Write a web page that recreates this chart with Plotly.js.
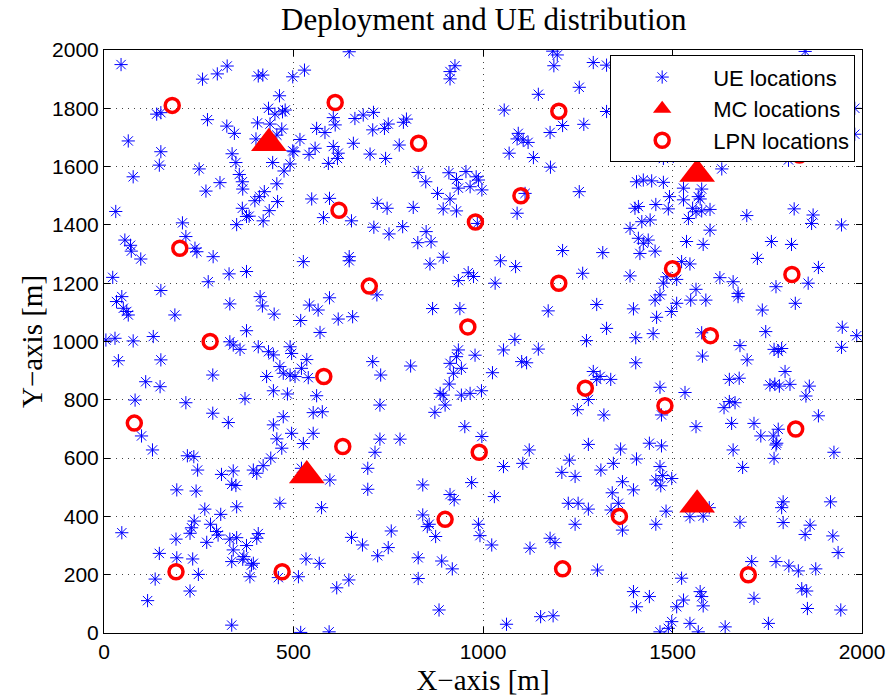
<!DOCTYPE html>
<html>
<head>
<meta charset="utf-8">
<script src="https://cdn.plot.ly/plotly-3.0.1.min.js"></script>
<style>html,body{margin:0;padding:0;background:#fff;}#chart{width:891px;height:696px;}</style>
</head>
<body>
<div id="chart"></div>
<script>
// UE locations (x, y in metres)
const ueX = [45,260,299,325,407,419,498,529,463,139,150,273,324,344,434,451,471,478,405,438,469,456,401,64,150,146,338,348,498,445,491,475,251,77,357,365,366,306,269,456,423,410,398,458,436,365,31,376,383,350,420,207,216,
55,70,72,
647,913,926,913,605,610,662,684,711,561,583,517,709,740,750,790,798,658,779,501,557,541,605,618,616,592,702,743,829,849,910,955,930,982,988,935,966,997,880,913,895,930,548,595,579,653,721,747,816,712,752,788,850,863,828,985,
1184,1196,1187,1291,1326,1254,1146,1056,1326,1210,1177,1266,1093,1090,1106,1119,1069,1133,1178,1476,1111,1090,1254,1405,1423,1445,1476,1492,1456,1489,1401,1410,1419,1441,1388,1410,1436,1423,
1981,1981,1850,1502,1559,1731,1806,1630,1529,1529,1577,1568,1573,1553,1562,1542,1577,1599,1599,1696,1821,1871,1867,1946,1537,1581,1761,1814,
97,240,245,288,23,330,376,275,150,47,33,51,60,64,332,187,412,418,449,5,29,77,130,376,332,341,359,407,434,447,491,495,38,150,464,473,491,429,287,110,148,447,484,82,216,372,287,328,473,447,99,495,
526,647,647,860,895,961,935,975,720,595,542,565,867,939,519,618,656,570,535,521,504,539,561,709,730,809,935,913,930,943,922,979,911,887,895,900,873,943,966,996,728,552,576,952,552,728,781,997,
1210,1316,1414,1454,1046,1086,1032,1263,1388,1485,1476,1467,1454,1458,1497,1300,1172,1397,1326,1084,1054,1146,1273,1403,1449,1102,1115,1025,1403,1291,1309,1300,1337,1278,1249,1319,1467,1471,
1724,1885,1524,1546,1511,1625,1660,1673,1673,1562,1548,1588,1511,1773,1858,1824,1737,1577,1746,1948,1986,1946,1678,1768,1779,1788,1579,1697,1797,1650,1676,1757,1770,1782,1810,1861,1852,1533,1650,1665,1636,1885,1562,1656,1715,1733,1766,1779,
128,220,237,247,310,341,337,348,394,403,420,440,456,469,192,243,464,266,308,350,238,231,227,281,297,301,47,190,271,332,350,341,376,407,403,146,192,234,337,369,366,389,394,385,135,249,227,115,337,460,
526,715,521,596,696,696,841,913,924,970,574,841,858,853,875,988,992,653,682,722,750,758,533,568,829,891,919,513,614,646,829,884,519,594,
1122,1278,1363,1439,1471,1054,1105,1228,1208,1243,1311,1344,1405,1467,1456,1474,1469,1498,1368,1397,1341,1030,1225,1251,1278,1338,1357,1368,1483,1456,1023,1243,1177,1190,1124,1302,1397,1439,1405,1062,1152,1185,1467,1489,1498,
1773,1775,1660,1685,1768,1926,1546,1581,1597,1678,1792,1788,1792,1917,1863,1850,1923,1937,1709,1773,1807,1832,1878,1524,1573,1577,1529,1511,1581,1841,1854,1715,1856,1944,1546,1568,1639,1753];
const ueY = [1950,1900,1918,1945,1911,1914,1908,1931,1843,1780,1785,1761,1739,1714,1800,1780,1788,1794,1750,1746,1729,1708,1695,1688,1651,1605,1644,1614,1654,1614,1609,1585,1592,1565,1573,1548,1523,1545,1516,1541,1514,1497,1483,1480,1449,1457,1446,1429,1430,1401,1414,1407,1360,
1348,1330,1310,
1994,1926,1946,1901,1768,1743,1765,1777,1786,1731,1717,1693,1726,1731,1746,1752,1763,1680,1674,1651,1663,1642,1669,1646,1628,1611,1643,1628,1580,1548,1579,1583,1556,1565,1554,1526,1531,1520,1508,1489,1455,1448,1489,1491,1425,1414,1474,1457,1460,1392,1369,1394,1377,1342,1339,1405,
1996,1983,1946,1957,1948,1872,1848,1794,1789,1741,1717,1745,1714,1695,1691,1683,1646,1631,1598,1628,1508,1440,1514,1548,1554,1551,1546,1497,1470,1455,1457,1463,1411,1417,1388,1354,1348,1337,
1800,1711,1995,1635,1640,1646,1623,1592,1526,1486,1523,1497,1489,1457,1445,1422,1448,1453,1382,1432,1455,1434,1405,1400,1343,1333,1343,1333,
1283,1320,1308,1291,1220,1232,1240,1205,1175,1154,1137,1114,1103,1091,1129,1091,1154,1122,1094,1005,1011,1002,1017,1037,999,988,973,982,965,954,982,959,934,937,914,891,885,880,885,862,845,831,820,799,790,804,754,722,742,714,676,685,
1274,1291,1277,1266,1289,1236,1209,1223,1160,1150,1125,1108,1113,1113,1072,1077,1085,1031,938,908,880,876,814,931,885,916,971,925,948,908,891,953,854,822,816,782,757,816,822,831,782,756,759,708,685,665,665,674,
1312,1305,1302,1310,1277,1257,1200,1234,1225,1222,1200,1160,1142,1083,1103,1127,1105,1112,1045,1007,971,974,1003,1013,1027,931,927,893,927,897,880,870,870,801,766,748,843,748,
1285,1254,1274,1266,1213,1219,1205,1165,1154,1179,1142,1142,1131,1188,1200,1131,1108,1030,1034,1049,1020,980,986,973,966,976,950,937,897,870,874,851,854,847,853,847,813,825,794,790,773,745,708,719,719,676,676,699,
628,608,605,559,544,556,510,506,559,548,574,600,666,634,491,487,445,425,407,433,384,361,342,373,348,336,344,322,311,322,327,285,300,341,325,273,258,254,245,262,253,233,239,193,185,201,144,111,27,190,
650,620,565,525,565,493,508,475,457,516,430,405,373,365,331,373,334,328,302,265,293,350,254,239,258,247,220,193,155,182,187,79,2,4,
628,647,631,651,642,571,582,593,551,537,559,582,597,571,525,540,505,530,519,491,481,468,445,445,425,422,445,353,418,373,302,373,325,310,291,216,142,125,90,30,56,59,4,16,39,
645,651,628,568,599,620,399,401,430,380,450,430,379,450,370,338,333,276,245,245,230,213,220,188,142,125,113,90,93,152,144,119,84,79,33,4,21,33];

// Macro cell (MC) locations
const mcX = [435, 1565, 535, 1565];
const mcY = [1680, 1575, 540, 440];

// Low power node (LPN) locations
const lpnX = [180, 610, 830, 620, 200, 700, 980, 1100, 1200, 1200, 960, 280, 580, 80, 630, 990, 900, 470, 190, 1210, 1360, 1270, 1480, 1500, 1600, 1815, 1825, 1700, 1835];
const lpnY = [1810, 1820, 1680, 1450, 1320, 1190, 1410, 1500, 1790, 1200, 1050, 1000, 880, 720, 640, 620, 390, 210, 210, 220, 400, 840, 780, 1250, 1020, 1230, 700, 200, 1640];

const xTicks = [0, 500, 1000, 1500, 2000];
const yTicks = [0, 200, 400, 600, 800, 1000, 1200, 1400, 1600, 1800, 2000];

const traces = [
  {x: ueX, y: ueY, type: 'scatter', mode: 'markers', name: 'UE locations',
   marker: {symbol: 'asterisk-open', size: 11, color: '#0000ff', line: {color: '#0000ff', width: 1}}},
  {x: mcX, y: mcY, type: 'scatter', mode: 'markers', name: 'MC locations',
   marker: {symbol: 'triangle-up', size: 31, color: '#ff0000', line: {width: 0}}},
  {x: lpnX, y: lpnY, type: 'scatter', mode: 'markers', name: 'LPN locations',
   marker: {symbol: 'circle-open', size: 14, color: '#ff0000', line: {color: '#ff0000', width: 3.5}}}
];

const serif = 'Liberation Serif, Times New Roman, serif';
const sans = 'Liberation Sans, Arial, sans-serif';

const axisCommon = {
  showline: true, linecolor: '#000', linewidth: 1, mirror: 'ticks',
  ticks: 'inside', ticklen: 6, tickcolor: '#000', tickwidth: 1,
  showgrid: true, gridcolor: '#444', gridwidth: 1, griddash: '1px,5px',
  zeroline: false,
  tickfont: {family: sans, size: 21, color: '#000'}
};

const layout = {
  width: 891, height: 696,
  margin: {l: 104, r: 29, t: 50, b: 63},
  paper_bgcolor: '#fff', plot_bgcolor: '#fff',
  title: {text: 'Deployment and UE distribution', font: {family: serif, size: 31, color: '#000'},
          x: 0.543, xanchor: 'center', y: 0.972, yanchor: 'middle', yref: 'container'},
  xaxis: Object.assign({}, axisCommon, {range: [0, 2000], tickvals: xTicks, ticktext: xTicks.map(String),
    title: {text: 'X\u2212axis [m]', font: {family: serif, size: 29, color: '#000'}, standoff: 8}}),
  yaxis: Object.assign({}, axisCommon, {range: [0, 2000], tickvals: yTicks, ticktext: yTicks.map(String),
    title: {text: 'Y\u2212axis [m]', font: {family: serif, size: 29, color: '#000'}, standoff: 0}}),
  showlegend: true,
  legend: {x: 0.991, y: 0.991, xanchor: 'right', yanchor: 'top', bgcolor: '#fff', bordercolor: '#000', borderwidth: 1,
           font: {family: sans, size: 22, color: '#000'}, itemwidth: 92, tracegroupgap: 0}
};

Plotly.newPlot('chart', traces, layout, {displayModeBar: false, staticPlot: true});
</script>
</body>
</html>
